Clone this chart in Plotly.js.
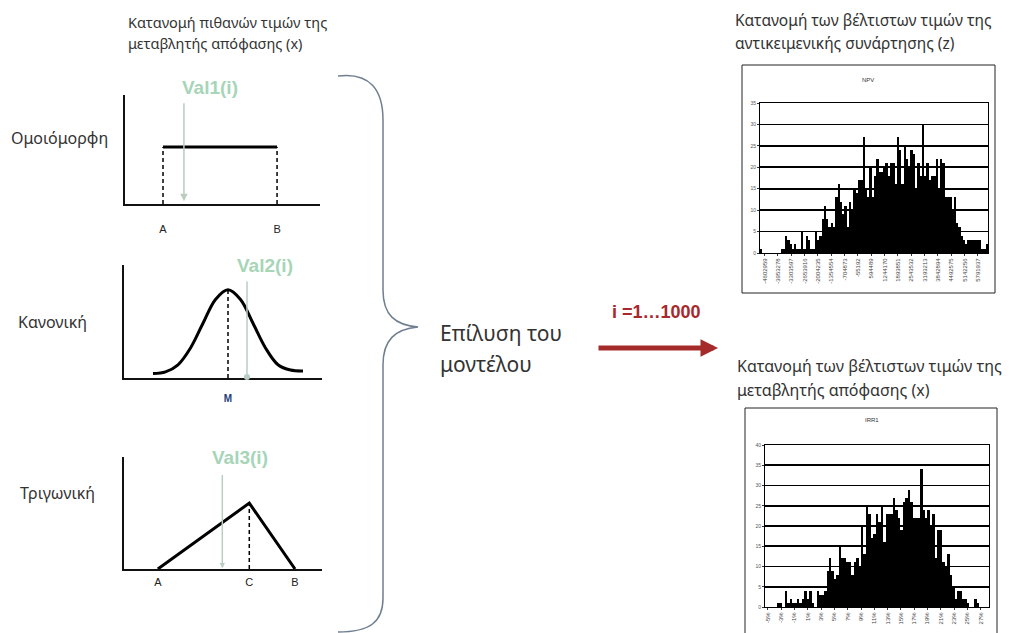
<!DOCTYPE html>
<html><head><meta charset="utf-8">
<script src="https://cdn.plot.ly/plotly-3.0.1.min.js"></script>
<style>html,body{margin:0;padding:0;background:#fff}#chart{width:1021px;height:633px}</style>
</head><body><div id="chart"></div>
<script>
// ---------- data ----------
const UNIFORM_X = [1, 4];            // A, B
const UNIFORM_Y = [1, 1];
const UNIFORM_TICKS = ['A', 'B'];

const NORMAL_X = [-3, -2.5, -2, -1.5, -1, -0.5, 0, 0.5, 1, 1.5, 2, 2.5, 3];
const NORMAL_Y = [0.05, 0.07, 0.15, 0.34, 0.62, 0.89, 1, 0.89, 0.62, 0.34, 0.15, 0.09, 0.08];
const NORMAL_TICKS = ['M'];

const TRI_X = [0, 2, 3];             // A, C, B
const TRI_Y = [0, 1, 0];
const TRI_TICKS = ['A', 'C', 'B'];

const VAL_LABELS = ['Val1(i)', 'Val2(i)', 'Val3(i)'];
const VAL_SAMPLES = [1.55, 0.76, 1.41];

const NPV = [1,0,0,0,0,0,0,0,0,1,1,4,3,2,1,2,1,1,5,1,4,3,1,1,5,3,4,8,11,8,6,7,6,13,16,12,9,11,6,12,10,15,14,17,17,27,15,13,20,13,18,22,19,19,20,21,18,21,21,16,27,24,16,25,22,20,24,23,15,21,18,30,18,21,17,18,18,22,15,22,21,13,13,13,10,13,7,6,4,3,2,3,3,3,3,3,3,1,1,2];
const NPV_TICKS = ['-4602959','-3953278','-3303597','-2653916','-2004235','-1354554','-704873','-55192','594489','1244170','1893851','2543532','3193213','3842894','4492575','5142256','5791937'];

const IRR = [0,0,0,0,0,1,1,0,4,1,2,1,1,2,1,2,4,2,4,1,0,4,3,3,4,9,12,9,7,8,15,12,12,11,11,8,11,12,10,20,13,25,23,17,18,23,21,25,16,23,23,23,27,24,22,19,26,27,29,26,22,22,22,34,24,22,24,20,23,12,19,19,11,10,13,8,5,2,4,4,2,2,1,0,0,2,1,0,0,0,0];
const IRR_TICKS = ['-5%','-3%','-1%','1%','3%','5%','7%','9%','11%','13%','15%','17%','19%','21%','23%','25%','27%'];

const DIST_NAMES = ['Ομοιόμορφη', 'Κανονική', 'Τριγωνική'];
const LEFT_TITLE = ['Κατανομή πιθανών τιμών της', 'μεταβλητής απόφασης (x)'];
const RIGHT_TITLE1 = ['Κατανομή των βέλτιστων τιμών της', 'αντικειμενικής συνάρτησης (z)'];
const RIGHT_TITLE2 = ['Κατανομή των βέλτιστων τιμών της', 'μεταβλητής απόφασης (x)'];
const SOLVE_TEXT = ['Επίλυση του', 'μοντέλου'];
const ITER_TEXT = 'i =1…1000';

// ---------- helpers ----------
const W = 1021, H = 633;
const FONT = '"Noto Sans", "Open Sans", sans-serif';
const ARIAL = '"Liberation Sans", Arial, sans-serif';
const dx = (a, b) => [a / W, b / W];
const dy = (top, bot) => [1 - bot / H, 1 - top / H];
const idx = arr => arr.map((_, i) => i);

const BLACK = '#000';
const VALGREEN = '#a6d5b8';
const VALLINE = '#b9cdc3';

function miniAxis(domain, range, extra) {
  return Object.assign({domain, range, showline: true, linecolor: '#111', linewidth: 1.6,
    showgrid: false, zeroline: false, ticks: '', fixedrange: true}, extra || {});
}

const traces = [
  {x: UNIFORM_X, y: UNIFORM_Y, xaxis: 'x', yaxis: 'y', mode: 'lines', line: {color: BLACK, width: 3}},
  {x: [UNIFORM_X[0], UNIFORM_X[0]], y: [0, UNIFORM_Y[0]], xaxis: 'x', yaxis: 'y', mode: 'lines', line: {color: BLACK, width: 1.5, dash: '4px,3px'}},
  {x: [UNIFORM_X[1], UNIFORM_X[1]], y: [0, UNIFORM_Y[1]], xaxis: 'x', yaxis: 'y', mode: 'lines', line: {color: BLACK, width: 1.5, dash: '4px,3px'}},
  {x: NORMAL_X, y: NORMAL_Y, xaxis: 'x2', yaxis: 'y2', mode: 'lines', line: {color: BLACK, width: 3, shape: 'spline', smoothing: 1}},
  {x: [0, 0], y: [0, 1], xaxis: 'x2', yaxis: 'y2', mode: 'lines', line: {color: BLACK, width: 1.5, dash: '4px,3px'}},
  {x: TRI_X, y: TRI_Y, xaxis: 'x3', yaxis: 'y3', mode: 'lines', line: {color: BLACK, width: 3}},
  {x: [TRI_X[1], TRI_X[1]], y: [0, TRI_Y[1]], xaxis: 'x3', yaxis: 'y3', mode: 'lines', line: {color: BLACK, width: 1.5, dash: '4px,3px'}},
  {type: 'bar', x: idx(NPV), y: NPV, xaxis: 'x4', yaxis: 'y4', marker: {color: BLACK, line: {width: 0}}},
  {type: 'bar', x: idx(IRR), y: IRR, xaxis: 'x5', yaxis: 'y5', marker: {color: BLACK, line: {width: 0}}},
  {x: [], y: [], xaxis: 'x6', yaxis: 'y6', mode: 'markers'}
];

const histX = (domain, n, ticks, start, step) => ({
  domain, range: [-0.5, n - 0.5], showline: true, mirror: true, linecolor: BLACK, linewidth: 1,
  showgrid: false, zeroline: false, ticks: 'outside', ticklen: 2, tickcolor: '#333',
  tickvals: ticks.map((_, i) => start + i * step), ticktext: ticks, tickangle: -90,
  tickfont: {family: ARIAL, size: 6, color: '#444'}, fixedrange: true
});
const histY = (domain, max) => ({
  domain, range: [0, max], dtick: 5, showline: true, mirror: true, linecolor: BLACK, linewidth: 1,
  showgrid: true, gridcolor: BLACK, gridwidth: 1.6, zeroline: false, ticks: 'outside', ticklen: 2,
  tickcolor: '#333', tickfont: {family: ARIAL, size: 5, color: '#555'}, fixedrange: true
});

const txt = (x, y, text, size, color, opts) => Object.assign({
  xref: 'x6', yref: 'y6', x, y, text, showarrow: false, xanchor: 'left', yanchor: 'middle',
  font: {family: FONT, size, color}
}, opts || {});
const bold = (x, y, text, size, color) => txt(x, y, text, size, color,
  {xanchor: 'center', font: {family: ARIAL, size, color, weight: 'bold'}});

const layout = {
  width: W, height: H, margin: {l: 0, r: 0, t: 0, b: 0}, showlegend: false,
  paper_bgcolor: '#fff', plot_bgcolor: 'rgba(0,0,0,0)', bargap: 0,
  xaxis: miniAxis(dx(125, 320), [0, 5.13], {tickvals: UNIFORM_X, ticktext: UNIFORM_TICKS, ticklabelstandoff: 14,
    tickfont: {family: ARIAL, size: 11, color: '#222'}}),
  yaxis: miniAxis(dy(95, 204), [0, 1.91], {showticklabels: false}),
  xaxis2: miniAxis(dx(124, 322), [-4.16, 3.76], {anchor: 'y2', tickvals: [0], ticktext: NORMAL_TICKS, ticklabelstandoff: 10,
    tickfont: {family: ARIAL, size: 10, color: '#1f3f78', weight: 'bold'}}),
  yaxis2: miniAxis(dy(265, 378), [0, 1.28], {anchor: 'x2', showticklabels: false}),
  xaxis3: miniAxis(dx(124, 322), [-0.74, 3.59], {anchor: 'y3', tickvals: TRI_X, ticktext: TRI_TICKS, ticklabelstandoff: 2,
    tickfont: {family: ARIAL, size: 11, color: '#222'}}),
  yaxis3: miniAxis(dy(457, 569), [0, 1.7], {anchor: 'x3', showticklabels: false}),
  xaxis4: Object.assign(histX(dx(760, 988), NPV.length, NPV_TICKS, 1.5, 5.85), {anchor: 'y4'}),
  yaxis4: Object.assign(histY(dy(103, 253), 35), {anchor: 'x4'}),
  xaxis5: Object.assign(histX(dx(765, 989), IRR.length, IRR_TICKS, 0.7, 5.4), {anchor: 'y5'}),
  yaxis5: Object.assign(histY(dy(445, 607), 40), {anchor: 'x5'}),
  xaxis6: {domain: [0, 1], range: [0, W], visible: false, fixedrange: true, anchor: 'y6'},
  yaxis6: {domain: [0, 1], range: [H, 0], visible: false, fixedrange: true, anchor: 'x6'},
  shapes: [
    {type: 'path', xref: 'x6', yref: 'y6', layer: 'above',
      path: 'M 338 76 C 370 72 383 90 383 120 L 383 290 C 383 315 395 325 418 327 C 395 329 383 340 383 365 L 383 598 C 383 622 370 632 338 632',
      line: {color: '#6f7f8f', width: 1.5}},
    {type: 'rect', xref: 'x6', yref: 'y6', x0: 742, y0: 65, x1: 995, y1: 293, line: {color: '#222', width: 1}, layer: 'below'},
    {type: 'rect', xref: 'x6', yref: 'y6', x0: 745, y0: 408, x1: 997, y1: 650, line: {color: '#222', width: 1}, layer: 'below'}
  ],
  annotations: [
    txt(126, 22, LEFT_TITLE[0], 14.5, '#333'),
    txt(126, 43, LEFT_TITLE[1], 14.5, '#333'),
    txt(733, 20, RIGHT_TITLE1[0], 15.5, '#333'),
    txt(733, 43, RIGHT_TITLE1[1], 15.5, '#333'),
    txt(735, 366, RIGHT_TITLE2[0], 16, '#333'),
    txt(735, 390, RIGHT_TITLE2[1], 16, '#333'),
    txt(9, 138, DIST_NAMES[0], 16, '#333'),
    txt(16, 322, DIST_NAMES[1], 16, '#333'),
    txt(18, 493, DIST_NAMES[2], 16, '#333'),
    txt(438, 333, SOLVE_TEXT[0], 21, '#333'),
    txt(438, 364, SOLVE_TEXT[1], 21, '#333'),
    bold(656, 312, ITER_TEXT, 18, '#a8282c'),
    {xref: 'x6', yref: 'y6', axref: 'x6', ayref: 'y6', x: 718, y: 348, ax: 597, ay: 348, text: '',
      showarrow: true, arrowhead: 2, arrowsize: 0.7, arrowwidth: 5, arrowcolor: '#a52a2a'},
    bold(210, 87, VAL_LABELS[0], 19, VALGREEN),
    bold(265, 265, VAL_LABELS[1], 19, VALGREEN),
    bold(240, 457, VAL_LABELS[2], 19, VALGREEN),
    {xref: 'x', yref: 'y', axref: 'x', ayref: 'y', x: VAL_SAMPLES[0], y: 0.05, ax: VAL_SAMPLES[0], ay: 1.79, text: '',
      showarrow: true, arrowhead: 2, arrowsize: 1, arrowwidth: 1.5, arrowcolor: VALLINE},
    {xref: 'x2', yref: 'y2', axref: 'x2', ayref: 'y2', x: VAL_SAMPLES[1], y: 0.01, ax: VAL_SAMPLES[1], ay: 1.11, text: '',
      showarrow: true, arrowhead: 6, arrowsize: 1, arrowwidth: 1.5, arrowcolor: VALLINE},
    {xref: 'x3', yref: 'y3', axref: 'x3', ayref: 'y3', x: VAL_SAMPLES[2], y: 0.01, ax: VAL_SAMPLES[2], ay: 1.45, text: '',
      showarrow: true, arrowhead: 2, arrowsize: 0.7, arrowwidth: 1.5, arrowcolor: VALLINE},
    {xref: 'x6', yref: 'y6', x: 868, y: 80, text: 'NPV', showarrow: false, font: {family: ARIAL, size: 6, color: '#333'}},
    {xref: 'x6', yref: 'y6', x: 872, y: 420, text: 'IRR1', showarrow: false, font: {family: ARIAL, size: 6, color: '#333'}}
  ]
};

Plotly.newPlot('chart', traces, layout, {staticPlot: true, displayModeBar: false});
</script></body></html>
